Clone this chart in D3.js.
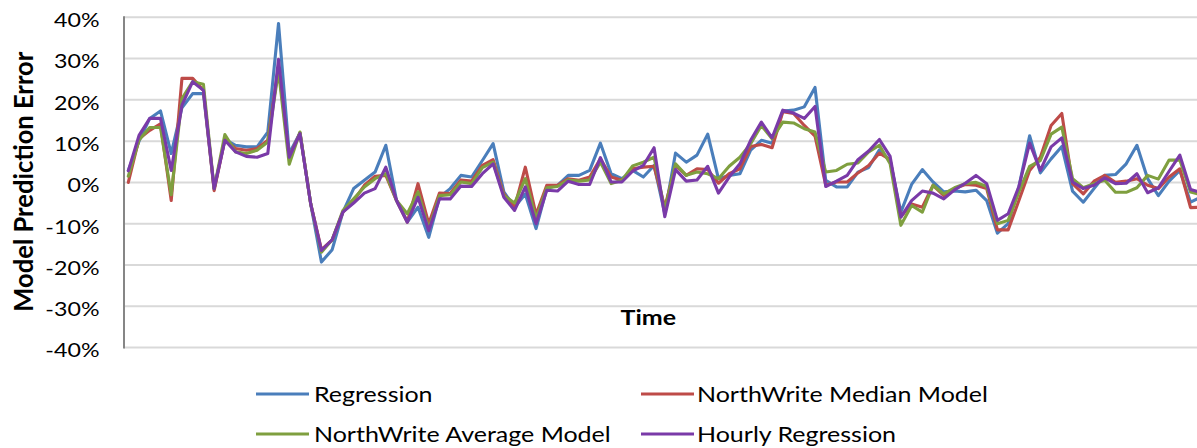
<!DOCTYPE html>
<html>
<head>
<meta charset="utf-8">
<script src="https://cdn.jsdelivr.net/npm/d3@7"></script>
<style>
  html, body { margin: 0; padding: 0; background: #fff; overflow: hidden; }
  svg { display: block; }
  text { font-family: Lato, "Open Sans", sans-serif; fill: #000; }
</style>
</head>
<body>
<svg id="chart" width="1197" height="448"></svg>
<script>
// Prediction error (%) per time period for each model
const periods = Array.from({ length: 101 }, (_, i) => i + 1);

const regression = [
  2.9, 10, 15.5, 17.3, 7, 18.1, 21.5, 21.5, -1.5, 10.4,
  9, 8.6, 8.6, 12.2, 38.5, 7, 12, -5.2, -19.3, -16.3,
  -7.2, -1.5, 0.5, 2.5, 9, -4.4, -9.6, -6, -13.3, -3.6,
  -1.5, 1.7, 1.3, 5.3, 9.4, -2.3, -6, -2.8, -11.2, -1.5,
  -0.7, 1.7, 1.7, 2.9, 9.5, 2.1, 0.9, 2.9, 1.3, 4.1,
  -7.6, 7.1, 4.9, 6.6, 11.7, 0.9, 1.7, 2.1, 7.8, 10.2,
  9.5, 17.3, 17.5, 18.3, 23, 0.5, -1.1, -1.1, 2.5, 3.6,
  7.9, 5.3, -7.2, -0.5, 3.1, 0.1, -2.3, -2.1, -2.3, -1.9,
  -4.4, -12.3, -10, -1.1, 11.3, 2.3, 5.7, 8.7, -2.1, -4.8,
  -1.5, 1.7, 1.9, 4.5, 9, 0.9, -3.2, 0.3, 2.9, -4.8,
  -3.5
];

const medianModel = [
  0, 10.6, 12.6, 14.2, -4.4, 25.2, 25.2, 22.3, -2, 10.4,
  8.2, 7.8, 8.2, 10.2, 28, 6.1, 12, -5.2, -16.3, -13.9,
  -7.2, -4.4, -0.7, 1.5, 1.7, -4.4, -9.6, -0.3, -10, -2.6,
  -2.7, 0.6, 0.3, 4.1, 5.5, -2.8, -6, 3.7, -7.8, -0.7,
  -0.7, 0.9, 0.5, 1.3, 5.7, 1.3, 0.5, 3.3, 3.7, 3.9,
  -6, 4.1, 1.7, 3.3, 3.1, -0.2, 2.1, 3.3, 8.7, 9.2,
  8.4, 17.1, 16.7, 13.8, 11.2, -0.7, 0.1, 0.1, 2.3, 4.1,
  7.1, 5.5, -8.3, -5.2, -6, -0.7, -3.2, -1.5, -0.5, -0.7,
  -1.5, -11.5, -11.5, -4.4, 2.9, 6.1, 13.8, 16.7, -0.3, -2.8,
  0.3, 1.7, 0, 0.3, 0.9, -0.7, -1.5, 1.3, 3.3, -6.1,
  -6
];

const averageModel = [
  1.5, 10.3, 13.3, 13.3, -3, 20.3, 24.4, 23.8, -1.5, 11.6,
  7.4, 7, 7.8, 9.8, 27, 4.4, 12.2, -5.2, -16.9, -13.9,
  -6.8, -4, -1.1, 0.9, 2.1, -4.4, -7.6, -2.3, -11.2, -3.2,
  -3, 0.1, -0.3, 3.6, 4.9, -3.2, -5, 0.9, -8.8, -1.3,
  -1, 0.6, 0.3, 0.6, 4.9, -0.3, 0.5, 4, 4.9, 6.1,
  -6.8, 4.5, 1.7, 2.5, 2.1, 0.9, 3.9, 6.1, 9.4, 13.8,
  10.6, 14.6, 14.4, 13, 12.2, 2.5, 2.9, 4.4, 4.7, 7.4,
  9, 4.5, -10.4, -5.6, -7.2, -0.7, -2.8, -1.3, -0.3, 0,
  -1, -10, -9.2, -2.3, 3.9, 5.3, 11.7, 13.4, 0.9, -1.3,
  -0.3, 0.5, -2.4, -2.4, -1.3, 1.7, 0.8, 5.4, 5.4, -2.3,
  -3
];

const hourlyRegression = [
  2.8, 11.4, 15.5, 15.5, 2.9, 18.7, 24.4, 22.3, -1.5, 10.2,
  7.4, 6.3, 6.1, 7, 29.8, 6.1, 11.8, -5.2, -16.5, -13.9,
  -7.2, -5, -2.6, -1.5, 3.7, -4.4, -9.6, -3.6, -11.7, -4,
  -4, -0.9, -1, 2.1, 4.5, -3.6, -6.8, -1.1, -10, -1.9,
  -2.1, 0.3, -0.5, -0.5, 6, 0.1, 0.1, 2.7, 4.1, 8.4,
  -8.3, 3.1, 0.3, 0.6, 3.9, -2.6, 1.3, 4.5, 10.2, 14.6,
  10.8, 17.5, 16.8, 15.5, 18.4, -1, 0.3, 1.7, 5.5, 7.6,
  10.4, 6.3, -8.4, -4.4, -2.1, -2.6, -4, -1.8, -0.2, 1.7,
  -0.3, -9.2, -7.6, -1, 9.5, 2.9, 8.6, 10.8, 0.1, -1.5,
  -0.7, 1.1, -0.3, -0.2, 2.1, -2.5, -1.3, 2.7, 6.6, -1.7,
  -2.5
];

const seriesNames = ["Regression", "NorthWrite Median Model", "NorthWrite Average Model", "Hourly Regression"];
const seriesColors = ["#4a7ebb", "#be4b48", "#7f9f3f", "#7a3aa8"];
const yTicks = [40, 30, 20, 10, 0, -10, -20, -30, -40];

const series = [regression, medianModel, averageModel, hourlyRegression];

const svg = d3.select("#chart");

// plot frame
const plotLeft = 124, plotRight = 1197, plotTop = 17.3, plotBottom = 347.5;
const stretch = 1.19; // horizontal widening of labels

const x = d3.scaleLinear()
  .domain([periods[0], periods[periods.length - 1]])
  .range([128.3, 1201.3]);

const y = d3.scaleLinear()
  .domain([-40, 40])
  .range([plotBottom, plotTop]);

// horizontal gridlines
svg.append("g")
  .selectAll("line")
  .data(yTicks)
  .join("line")
  .attr("x1", plotLeft)
  .attr("x2", plotRight)
  .attr("y1", d => y(d))
  .attr("y2", d => y(d))
  .attr("stroke", "#d9d9d9")
  .attr("stroke-width", 2);

// y axis with percent labels
const yAxis = d3.axisLeft(y)
  .tickValues(yTicks)
  .tickSize(0)
  .tickFormat(d => d + "%");

const yAxisG = svg.append("g")
  .attr("transform", `translate(${plotLeft},0)`)
  .call(yAxis);

yAxisG.select(".domain").remove();
yAxisG.selectAll("text")
  .attr("x", -24.5)
  .attr("dy", null)
  .attr("y", 9.4)
  .attr("fill", "#000")
  .style("font-family", "Lato, sans-serif")
  .style("font-size", "19.5px")
  .attr("text-anchor", "end");

svg.append("line")
  .attr("x1", plotLeft).attr("x2", plotLeft)
  .attr("y1", plotTop - 1).attr("y2", plotBottom + 1)
  .attr("stroke", "#868686")
  .attr("stroke-width", 2);

// series lines
const line = d3.line()
  .x((d, i) => x(periods[i]))
  .y(d => y(d));

svg.append("defs").append("clipPath").attr("id", "plotClip")
  .append("rect").attr("x", plotLeft).attr("y", 0).attr("width", plotRight - plotLeft).attr("height", 448);

svg.append("g")
  .attr("clip-path", "url(#plotClip)")
  .selectAll("path")
  .data(series)
  .join("path")
  .attr("d", d => line(d))
  .attr("fill", "none")
  .attr("stroke", (d, i) => seriesColors[i])
  .attr("stroke-width", 3.1)
  .attr("stroke-linejoin", "round")
  .attr("stroke-linecap", "round");

// axis titles
svg.append("text")
  .attr("transform", "translate(33.3,181.7) rotate(-90)")
  .attr("text-anchor", "middle")
  .style("font-size", "26px")
  .style("font-weight", "bold")
  .attr("class", "ytitle")
  .text("Model Prediction Error");

svg.append("text")
  .attr("x", 648.3)
  .attr("y", 325)
  .attr("text-anchor", "middle")
  .style("font-size", "21px")
  .style("font-weight", "bold")
  .attr("class", "stretch")
  .text("Time");

// legend, two columns by two rows
const legendPos = [
  { sx: 256, tx: 314, cy: 394 },
  { sx: 641, tx: 697, cy: 394 },
  { sx: 256, tx: 314, cy: 434 },
  { sx: 641, tx: 697, cy: 434 }
];

const legend = svg.append("g")
  .selectAll("g")
  .data(seriesNames)
  .join("g");

legend.append("line")
  .attr("x1", (d, i) => legendPos[i].sx)
  .attr("x2", (d, i) => legendPos[i].sx + 53)
  .attr("y1", (d, i) => legendPos[i].cy)
  .attr("y2", (d, i) => legendPos[i].cy)
  .attr("stroke", (d, i) => seriesColors[i])
  .attr("stroke-width", 3.1);

legend.append("text")
  .attr("x", (d, i) => legendPos[i].tx)
  .attr("y", (d, i) => legendPos[i].cy + 7.8)
  .style("font-size", "21px")
  .attr("class", "stretch")
  .text(d => d);

// widen horizontal labels to match the Calibri-style metrics
function widen(sel, k) {
  sel.each(function () {
    const w = this.getComputedTextLength();
    d3.select(this).attr("textLength", w * k).attr("lengthAdjust", "spacingAndGlyphs");
  });
}
widen(yAxisG.selectAll("text"), stretch);
widen(svg.selectAll("text.stretch"), stretch);
svg.select("text.ytitle").attr("textLength", 260).attr("lengthAdjust", "spacingAndGlyphs");
</script>
</body>
</html>
